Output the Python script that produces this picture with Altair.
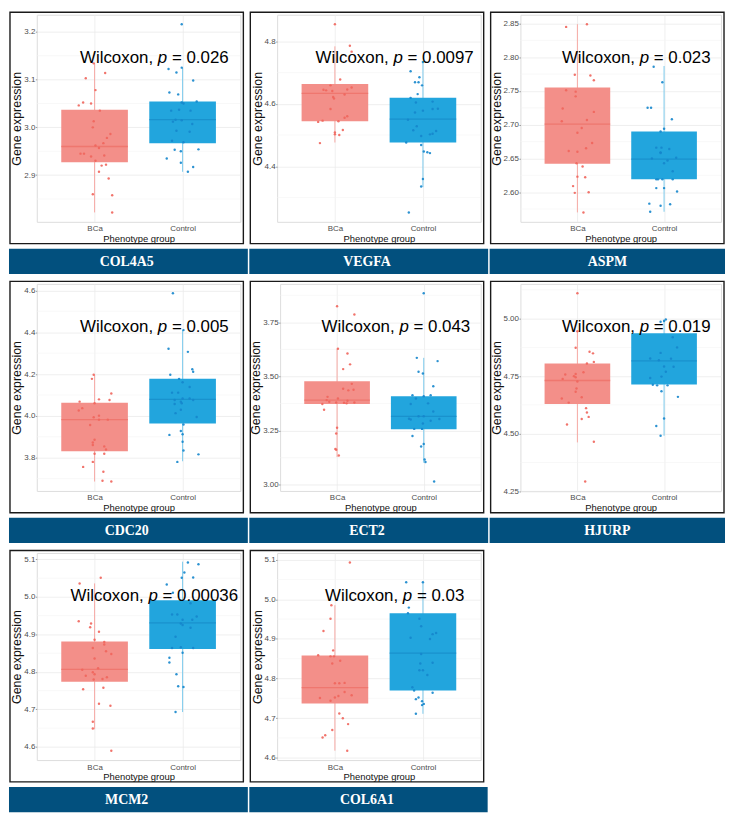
import altair as alt

genes = ["COL4A5", "VEGFA", "ASPM", "CDC20", "ECT2", "HJURP", "MCM2", "COL6A1"]
p_values = ["0.026", "0.0097", "0.023", "0.005", "0.043", "0.019", "0.00036", "0.03"]
groups = ["BCa", "Control"]

# box statistics per gene: [q1, median, q3, whisker_low, whisker_high]
bca_box = {
    "COL4A5": [2.927, 2.960, 3.037, 2.822, 3.134],
    "VEGFA": [4.544, 4.633, 4.663, 4.476, 4.784],
    "ASPM": [2.642, 2.701, 2.755, 2.570, 2.849],
    "CDC20": [3.831, 3.982, 4.063, 3.686, 4.197],
    "ECT2": [3.373, 3.391, 3.478, 3.128, 3.628],
    "HJURP": [4.629, 4.731, 4.805, 4.462, 4.945],
    "MCM2": [4.774, 4.807, 4.881, 4.647, 5.036],
    "COL6A1": [4.737, 4.777, 4.858, 4.618, 4.985],
}
ctl_box = {
    "COL4A5": [2.967, 3.016, 3.054, 2.907, 3.125],
    "VEGFA": [4.476, 4.551, 4.619, 4.333, 4.734],
    "ASPM": [2.619, 2.649, 2.690, 2.571, 2.787],
    "CDC20": [3.963, 4.079, 4.177, 3.783, 4.410],
    "ECT2": [3.256, 3.316, 3.409, 3.102, 3.586],
    "HJURP": [4.714, 4.816, 4.936, 4.491, 4.996],
    "MCM2": [4.861, 4.931, 4.991, 4.693, 5.094],
    "COL6A1": [4.770, 4.864, 4.965, 4.711, 5.043],
}

# individual samples: (value, horizontal jitter in category units)
bca_pts = {
    "COL4A5": [(3.134, -.01), (3.103, -.10), (3.114, .12), (3.078, .01), (3.052, -.13), (3.050, -.04), (3.046, -.18),
               (3.035, .06), (3.013, -.01), (3.000, -.02), (2.986, .18), (2.978, .14), (2.967, .10), (2.945, -.16),
               (2.945, -.12), (2.962, .01), (2.957, .05), (2.941, .11), (2.939, -.04), (2.930, .01), (2.922, .13),
               (2.920, .08), (2.907, .05), (2.893, .16), (2.860, -.02), (2.858, .20), (2.822, .20)],
    "VEGFA": [(4.855, 0), (4.786, .17), (4.767, .19), (4.678, .06), (4.659, -.05), (4.643, -.10), (4.645, -.13),
              (4.641, -.03), (4.652, .19), (4.646, .14), (4.630, .11), (4.622, -.02), (4.617, -.01), (4.583, -.05),
              (4.560, .14), (4.555, .11), (4.546, -.14), (4.542, -.19), (4.544, .04), (4.516, .09), (4.508, 0),
              (4.502, 0), (4.500, .05), (4.474, -.17)],
    "ASPM": [(2.845, -.13), (2.849, .11), (2.774, -.03), (2.773, .15), (2.766, .19), (2.751, -.13), (2.749, -.02),
             (2.742, -.02), (2.724, -.17), (2.719, .19), (2.707, .11), (2.705, -.18), (2.695, .05), (2.688, 0),
             (2.673, .17), (2.661, -.10), (2.660, 0), (2.665, .10), (2.643, -.01), (2.638, .06), (2.623, 0),
             (2.622, .09), (2.609, -.05), (2.599, -.03), (2.600, .13), (2.570, .07)],
    "CDC20": [(4.197, -.01), (4.177, -.03), (4.107, .19), (4.068, -.17), (4.079, .05), (4.076, .17), (4.060, 0),
              (4.037, -.14), (4.026, -.18), (3.993, -.01), (4.001, .05), (3.982, .05), (3.982, .15), (3.956, -.05),
              (3.886, 0), (3.873, -.02), (3.861, -.02), (3.854, .11), (3.839, .13), (3.819, 0), (3.819, .11),
              (3.780, -.02), (3.756, -.13), (3.733, .10), (3.690, .09), (3.686, .19)],
    "ECT2": [(3.824, 0), (3.786, .20), (3.628, .01), (3.606, .12), (3.556, .15), (3.534, .07), (3.466, .17),
             (3.443, .07), (3.436, .13), (3.439, .19), (3.406, -.11), (3.398, .01), (3.391, -.12), (3.388, .12),
             (3.383, -.09), (3.380, -.01), (3.379, .08), (3.376, .11), (3.380, .20), (3.373, -.17), (3.346, -.15),
             (3.263, 0), (3.237, -.01), (3.165, -.02), (3.162, -.01), (3.135, .02)],
    "HJURP": [(5.110, 0), (4.945, 0), (4.873, -.02), (4.856, .14), (4.849, .18), (4.812, .19), (4.805, .11),
              (4.767, .07), (4.757, -.14), (4.759, -.02), (4.750, -.04), (4.745, -.02), (4.738, -.17), (4.727, 0),
              (4.696, -.01), (4.682, -.02), (4.653, -.18), (4.658, .05), (4.635, -.10), (4.611, .10), (4.592, .11),
              (4.573, .13), (4.564, .05), (4.540, -.12), (4.465, .19), (4.292, .09)],
    "MCM2": [(5.036, -.17), (5.051, .07), (4.935, -.18), (4.929, -.04), (4.919, -.05), (4.907, .05), (4.886, 0),
             (4.880, .11), (4.873, .11), (4.855, .13), (4.864, -.02), (4.848, .19), (4.836, 0), (4.806, -.14),
             (4.810, .04), (4.799, -.02), (4.794, 0), (4.790, -.10), (4.786, .14), (4.781, .09), (4.780, -.01),
             (4.754, -.13), (4.758, .10), (4.715, .05), (4.710, .18), (4.667, -.02), (4.649, -.02), (4.590, .19)],
    "COL6A1": [(5.093, .17), (4.985, -.04), (4.951, -.05), (4.920, -.13), (4.871, -.02), (4.859, -.19), (4.856, -.05),
               (4.856, -.01), (4.845, .06), (4.838, -.03), (4.788, 0), (4.788, .05), (4.789, .11), (4.766, .11),
               (4.758, .19), (4.756, .04), (4.752, 0), (4.751, -.17), (4.744, -.05), (4.712, .05), (4.700, .09),
               (4.685, .15), (4.670, -.03), (4.657, -.11), (4.651, -.14), (4.618, .14)],
}
ctl_pts = {
    "COL4A5": [(3.216, -.01), (3.125, -.01), (3.122, -.16), (3.115, -.07), (3.098, .12), (3.073, -.15), (3.069, -.05),
               (3.054, .16), (3.052, -.01), (3.050, .01), (3.035, -.13), (3.037, -.04), (3.035, .09), (3.016, -.08),
               (3.015, -.01), (3.012, -.11), (3.007, .11), (2.993, -.07), (2.991, .08), (2.972, -.12), (2.969, .01),
               (2.953, -.09), (2.950, -.02), (2.954, .18), (2.935, -.18), (2.926, -.02), (2.917, .12), (2.907, .06)],
    "VEGFA": [(4.734, 0), (4.704, -.14), (4.685, -.04), (4.669, -.09), (4.669, -.05), (4.659, -.01), (4.631, -.06),
              (4.619, -.14), (4.604, -.08), (4.607, .11), (4.572, -.09), (4.578, 0), (4.583, .11), (4.584, .17),
              (4.549, -.17), (4.528, -.07), (4.515, -.11), (4.513, .15), (4.504, .11), (4.502, .08), (4.497, -.02),
              (4.476, -.19), (4.468, -.02), (4.447, .01), (4.445, .05), (4.442, .08), (4.359, 0), (4.335, -.02),
              (4.252, -.16)],
    "ASPM": [(2.786, -.12), (2.763, -.02), (2.725, -.19), (2.725, -.15), (2.708, .09), (2.694, 0), (2.690, -.04),
             (2.666, -.09), (2.666, -.03), (2.664, .06), (2.659, -.04), (2.658, -.04), (2.650, -.14), (2.647, .04),
             (2.643, 0), (2.651, .14), (2.631, .10), (2.619, -.09), (2.619, -.07), (2.619, -.02), (2.619, .10),
             (2.606, -.09), (2.606, 0), (2.601, .15), (2.583, -.17), (2.582, .07), (2.580, -.04), (2.571, -.16)],
    "CDC20": [(4.586, -.11), (4.410, .01), (4.321, -.16), (4.306, .06), (4.223, .11), (4.211, .12), (4.197, -.14),
              (4.177, -.04), (4.161, 0), (4.138, .08), (4.111, -.12), (4.111, -.05), (4.083, 0), (4.083, .08),
              (4.076, .12), (4.076, -.09), (4.068, -.02), (4.060, -.01), (4.057, -.09), (4.029, -.02), (4.013, -.08),
              (3.995, .16), (3.959, .01), (3.928, -.02), (3.912, 0), (3.909, -.15), (3.876, 0), (3.834, .01),
              (3.816, .18), (3.780, -.06)],
    "ECT2": [(3.884, 0), (3.586, -.08), (3.571, .16), (3.522, -.06), (3.514, -.01), (3.455, .11), (3.413, -.13),
             (3.409, 0), (3.413, .08), (3.398, -.09), (3.376, .05), (3.373, -.15), (3.338, .11), (3.316, -.06),
             (3.316, 0), (3.305, -.17), (3.301, -.15), (3.304, .18), (3.296, .08), (3.283, -.01), (3.258, -.11),
             (3.258, -.02), (3.225, -.13), (3.188, 0), (3.177, -.03), (3.117, .01), (3.105, .02), (3.015, .12)],
    "HJURP": [(4.990, 0), (4.986, -.04), (4.996, .02), (4.919, .10), (4.875, .15), (4.851, -.04), (4.827, -.16),
              (4.819, -.06), (4.826, .08), (4.791, .11), (4.792, 0), (4.769, .02), (4.748, -.03), (4.742, -.16),
              (4.713, -.13), (4.710, -.08), (4.710, .04), (4.684, -.03), (4.660, .16), (4.566, 0), (4.533, -.09),
              (4.491, -.04)],
    "MCM2": [(5.092, .06), (5.087, .18), (5.065, .02), (5.052, .12), (5.051, -.01), (5.033, -.18), (5.011, -.11),
             (4.983, .09), (4.953, -.12), (4.953, -.06), (4.948, .16), (4.939, 0), (4.939, .11), (4.929, -.02),
             (4.925, 0), (4.918, .09), (4.894, -.08), (4.864, -.12), (4.866, -.02), (4.864, .12), (4.851, 0),
             (4.838, -.15), (4.825, -.15), (4.794, -.07), (4.762, -.05), (4.760, .01), (4.693, -.08)],
    "COL6A1": [(5.043, -.19), (5.043, 0), (4.979, -.16), (4.965, -.17), (4.951, -.04), (4.932, -.02), (4.915, .15),
               (4.912, .11), (4.903, -.14), (4.900, .08), (4.862, -.02), (4.838, -.03), (4.840, .11), (4.821, -.04),
               (4.821, 0), (4.809, .05), (4.778, -.12), (4.770, -.10), (4.764, .11), (4.752, -.05), (4.748, -.08),
               (4.743, -.01), (4.736, .01), (4.733, -.01), (4.711, -.08)],
}

y_ticks = {
    "COL4A5": [2.9, 3.0, 3.1, 3.2],
    "VEGFA": [4.4, 4.6, 4.8],
    "ASPM": [2.60, 2.65, 2.70, 2.75, 2.80, 2.85],
    "CDC20": [3.8, 4.0, 4.2, 4.4, 4.6],
    "ECT2": [3.00, 3.25, 3.50, 3.75],
    "HJURP": [4.25, 4.50, 4.75, 5.00],
    "MCM2": [4.6, 4.7, 4.8, 4.9, 5.0, 5.1],
    "COL6A1": [4.6, 4.7, 4.8, 4.9, 5.0, 5.1],
}
y_format = {"COL4A5": ".1f", "VEGFA": ".1f", "ASPM": ".2f", "CDC20": ".1f",
            "ECT2": ".2f", "HJURP": ".2f", "MCM2": ".1f", "COL6A1": ".1f"}

# ---- styling ----
FILL = {"BCa": "#F38F89", "Control": "#22A5DD"}
MED = {"BCa": "#EC6C64", "Control": "#168AC6"}
WHISK = {"BCa": "#F6A8A3", "Control": "#7CCAEC"}
POINT = {"BCa": "#F0655C", "Control": "#1586CC"}
BANNER = "#02507E"
FONT = "Liberation Sans"

AW = {"W": .944, "i": .222, "l": .222, "c": .5, "o": .556, "x": .5, "n": .556, ",": .278, " ": .278,
      "p": .556, "=": .584, ".": .278}


def tw(s, size):
    return sum(AW.get(ch, .556) for ch in s) * size


FRAME_W = 235
FRAME_H = 233
PLOT_TOP = 2.5
PLOT_BOTTOM_GAP = 22
BANNER_GAP = 5
BANNER_H = 25.5


def minor_lines(major, lo, hi):
    step = major[1] - major[0]
    cands = [major[0] - step / 2] + [m + step / 2 for m in major]
    return [c for c in cands if lo <= c <= hi]


def panel(i, right_ext):
    g = genes[i]
    four = y_format[g] == ".2f"
    off = 30 if four else 27
    W = FRAME_W - off - 3
    H = FRAME_H - PLOT_TOP - PLOT_BOTTOM_GAP
    allv = [v for v, _ in bca_pts[g]] + [v for v, _ in ctl_pts[g]]
    lo, hi = min(allv), max(allv)
    rng = hi - lo
    dom = [lo - 0.05 * rng, hi + 0.05 * rng]
    yscale = alt.Scale(domain=dom, nice=False, zero=False)
    xscale = alt.Scale(domain=[0.4, 2.6], nice=False, zero=False)
    yaxis = alt.Axis(values=y_ticks[g], format=y_format[g], title="Gene expression", grid=True,
                     gridColor="#EBEBEB", gridWidth=0.8, domain=False, ticks=True, tickSize=1.5,
                     tickColor="#9A9A9A", labelColor="#4D4D4D", labelFontSize=8, labelPadding=0.5,
                     titleFontSize=12.5, titleFontWeight="normal", titleColor="#111111", titlePadding=0,
                     labelFont=FONT, titleFont=FONT)
    xaxis = alt.Axis(values=[1, 2], labelExpr="datum.value == 1 ? 'BCa' : 'Control'",
                     title="Phenotype group", grid=True, gridColor="#EBEBEB", gridWidth=0.8,
                     domain=False, ticks=False, labelColor="#4D4D4D", labelFontSize=8, labelPadding=3,
                     titleFontSize=9.5, titleFontWeight="normal", titleColor="#111111", titlePadding=1,
                     labelFont=FONT, titleFont=FONT, labelAngle=0)
    one = alt.Data(values=[{}])
    fl, fr = -off, W + 3
    ft, fb = -PLOT_TOP, H + PLOT_BOTTOM_GAP
    bt = fb + BANNER_GAP
    bb = bt + BANNER_H

    layers = []
    layers.append(alt.Chart(one).mark_rect(fillOpacity=0, stroke="#1a1a1a", strokeWidth=1.4).encode(
        x=alt.value(fl), x2=alt.value(fr), y=alt.value(ft), y2=alt.value(fb)))
    layers.append(alt.Chart(one).mark_rect(fill=BANNER).encode(
        x=alt.value(fl - 1), x2=alt.value(fr + right_ext), y=alt.value(bt), y2=alt.value(bb)))
    layers.append(alt.Chart(one).mark_text(font="Liberation Serif", fontWeight="bold", fontSize=14,
                                           color="white", align="center", baseline="middle").encode(
        x=alt.value((fl + fr) / 2), y=alt.value((bt + bb) / 2 + 0.5), text=alt.value(g)))

    minors = [{"m": m} for m in minor_lines(y_ticks[g], dom[0], dom[1])]
    layers.append(alt.Chart(alt.Data(values=minors)).mark_rule(color="#F3F3F3", strokeWidth=0.6).encode(
        y=alt.Y("m:Q", scale=yscale, axis=yaxis)))

    for gi, grp in enumerate(groups):
        box = bca_box[g] if grp == "BCa" else ctl_box[g]
        pts = bca_pts[g] if grp == "BCa" else ctl_pts[g]
        bdata = alt.Data(values=[{"pos": gi + 1, "q1": box[0], "med": box[1], "q3": box[2],
                                  "lo": box[3], "hi": box[4]}])
        pdata = alt.Data(values=[{"pos": gi + 1 + dx, "value": v} for v, dx in pts])
        boxw = 0.72 * W / 2.2
        X = alt.X("pos:Q", scale=xscale, axis=xaxis)
        layers.append(alt.Chart(bdata).mark_rule(color=WHISK[grp], strokeWidth=1).encode(
            x=X, y=alt.Y("lo:Q", scale=yscale, axis=yaxis), y2="hi:Q"))
        layers.append(alt.Chart(bdata).mark_bar(color=FILL[grp], size=boxw).encode(
            x=X, y=alt.Y("q1:Q", scale=yscale, axis=yaxis), y2="q3:Q"))
        layers.append(alt.Chart(bdata).mark_tick(color=MED[grp], orient="horizontal", size=boxw,
                                                 thickness=1.3).encode(
            x=X, y=alt.Y("med:Q", scale=yscale, axis=yaxis)))
        layers.append(alt.Chart(pdata).mark_circle(color=POINT[grp], size=6, opacity=0.9).encode(
            x=X, y=alt.Y("value:Q", scale=yscale, axis=yaxis)))

    # Wilcoxon label: "Wilcoxon, " + italic p + " = value"
    fs = 17
    s1 = "Wilcoxon,"
    s3 = "= " + p_values[i]
    total = tw("Wilcoxon, p " + s3, fs)
    cx = (1.67 - 0.4) / 2.2 * W
    start = cx - total / 2
    ty = 0.21 * H
    tstyle = dict(font=FONT, fontSize=fs, color="black", baseline="middle")
    layers.append(alt.Chart(one).mark_text(align="right", **tstyle).encode(
        x=alt.value(start + tw(s1, fs)), y=alt.value(ty), text=alt.value(s1)))
    layers.append(alt.Chart(one).mark_text(align="left", fontStyle="italic", **tstyle).encode(
        x=alt.value(start + tw("Wilcoxon, ", fs)), y=alt.value(ty), text=alt.value("p")))
    layers.append(alt.Chart(one).mark_text(align="left", **tstyle).encode(
        x=alt.value(start + tw("Wilcoxon, p ", fs)), y=alt.value(ty), text=alt.value(s3)))

    return alt.layer(*layers).properties(width=W, height=H)


row1 = alt.hconcat(panel(0, 4.5), panel(1, 4.5), panel(2, 1), spacing=0)
row2 = alt.hconcat(panel(3, 4.5), panel(4, 4.5), panel(5, 1), spacing=0)
row3 = alt.hconcat(panel(6, 4.5), panel(7, 4), spacing=0)

chart = alt.vconcat(row1, row2, row3, spacing=5).properties(
    padding=0, autosize=alt.AutoSizeParams(type="pad")).configure_view(
    stroke=None).configure(background="white", font=FONT)

chart.save("out.html", embed_options={"renderer": "svg", "actions": False})
